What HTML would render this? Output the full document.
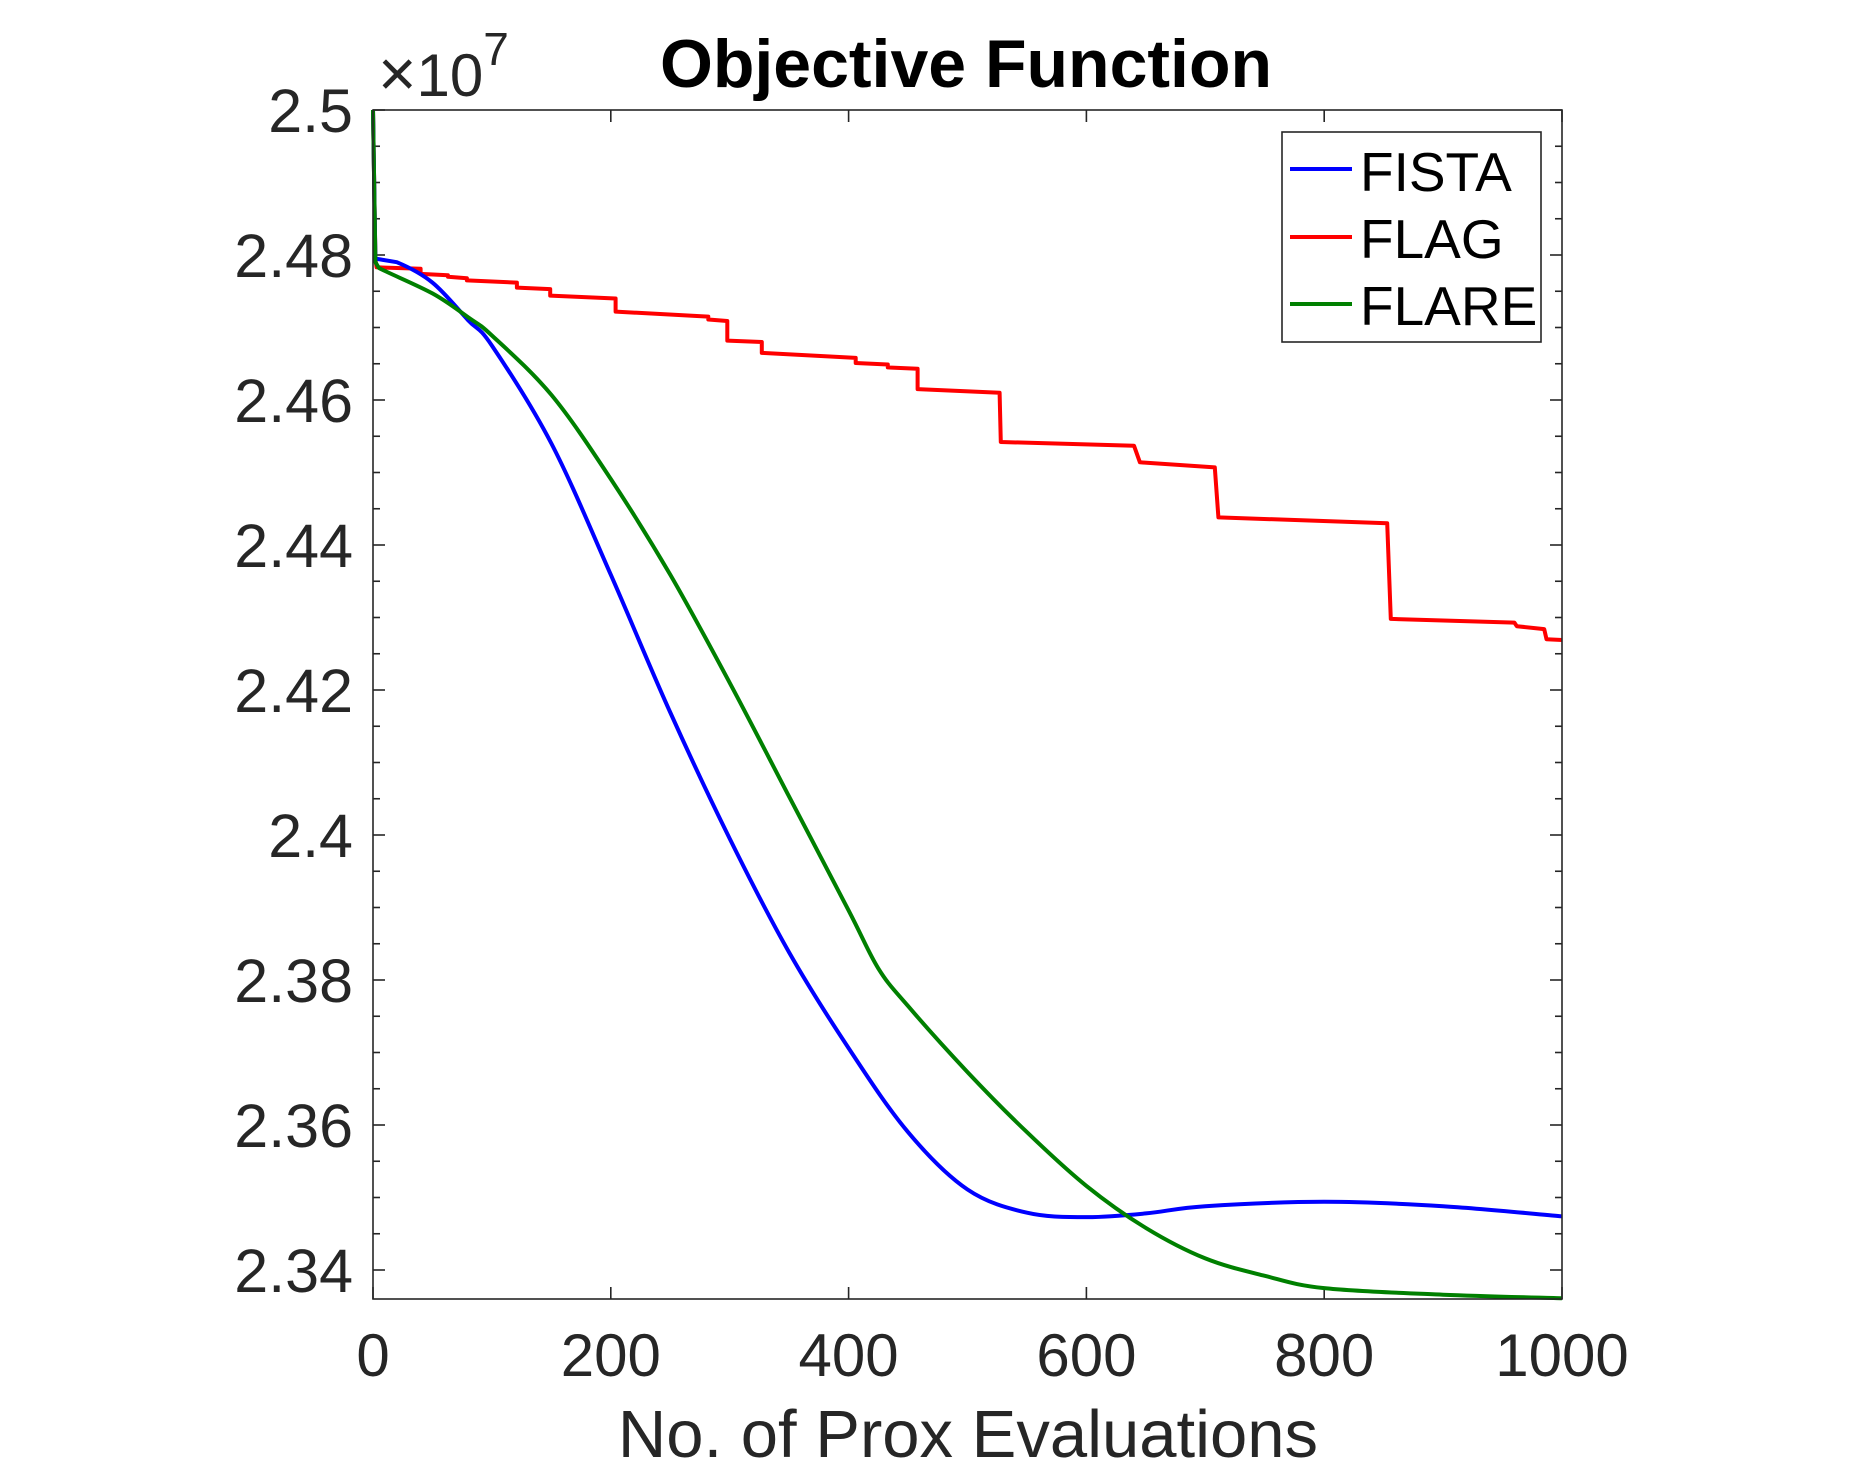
<!DOCTYPE html>
<html><head><meta charset="utf-8"><style>
html,body{margin:0;padding:0;background:#fff;}
svg{display:block;font-family:"Liberation Sans",sans-serif;}
</style></head><body>
<svg id="chart" width="1867" height="1473" viewBox="0 0 1867 1473" xmlns="http://www.w3.org/2000/svg">
<rect x="0" y="0" width="1867" height="1473" fill="#fff"/>
<g id="grid"></g>
<g id="series"></g>
<rect x="373" y="110" width="1189" height="1189" fill="none" stroke="#262626" stroke-width="1.6"/>
<text x="966" y="87" text-anchor="middle" font-size="68" font-weight="bold" fill="#000">Objective Function</text>
<text x="378" y="96" font-size="60" fill="#262626"><tspan font-size="66">×</tspan>10<tspan font-size="46" dy="-31">7</tspan></text>
<text x="968" y="1457" text-anchor="middle" font-size="67" fill="#262626">No. of Prox Evaluations</text>
<g>
<rect x="1282" y="132" width="259" height="210" fill="#fff" stroke="#262626" stroke-width="1.6"/>
<line x1="1290" y1="169" x2="1352" y2="169" stroke="#0000ff" stroke-width="4"/>
<text x="1360" y="191" font-size="55" fill="#000">FISTA</text>
<line x1="1290" y1="237" x2="1352" y2="237" stroke="#ff0000" stroke-width="4"/>
<text x="1360" y="258" font-size="55" fill="#000">FLAG</text>
<line x1="1290" y1="304" x2="1352" y2="304" stroke="#008000" stroke-width="4"/>
<text x="1360" y="325" font-size="55" fill="#000">FLARE</text>
</g>
</svg>
<script>
const xTicks = [0, 200, 400, 600, 800, 1000];
const yTicks = [2.34, 2.36, 2.38, 2.40, 2.42, 2.44, 2.46, 2.48, 2.50];
const yTickLabels = ["2.34", "2.36", "2.38", "2.4", "2.42", "2.44", "2.46", "2.48", "2.5"];
const fistaX = [0, 2, 20, 50, 80, 100, 150, 200, 250, 300, 350, 400, 450, 500, 550, 600, 650, 700, 800, 900, 1000];
const fistaY = [2.5, 2.4795, 2.4790, 2.4762, 2.4710, 2.4675, 2.4540, 2.4359, 2.4169, 2.3995, 2.3838, 2.3706, 2.3590, 2.3511, 2.3479, 2.3473, 2.3478, 2.3488, 2.3494, 2.3488, 2.3474];
const flareX = [0, 2, 5, 50, 80, 100, 150, 200, 250, 300, 350, 400, 425, 450, 500, 550, 600, 650, 700, 750, 800, 900, 1000];
const flareY = [2.5, 2.479, 2.4782, 2.4747, 2.4714, 2.4689, 2.4607, 2.4491, 2.4359, 2.4210, 2.4053, 2.3896, 2.3816, 2.3764, 2.3673, 2.3590, 2.3516, 2.3458, 2.3416, 2.3392, 2.3375, 2.3366, 2.3361];
const flagX = [0, 2, 3, 40, 40, 63, 63, 79, 79, 121, 121, 149, 149, 204, 204, 282, 282, 298, 298, 327, 327, 406, 406, 433, 433, 458, 458, 527, 528, 640, 645, 708, 711, 853, 856, 960, 962, 985, 987, 1000];
const flagY = [2.5, 2.4794, 2.4783, 2.4781, 2.4774, 2.4772, 2.4770, 2.4768, 2.4765, 2.4762, 2.4755, 2.4753, 2.4744, 2.4740, 2.4722, 2.4715, 2.4711, 2.4709, 2.4682, 2.4680, 2.4665, 2.4658, 2.4651, 2.4649, 2.4645, 2.4643, 2.4615, 2.4610, 2.4542, 2.4537, 2.4514, 2.4507, 2.4438, 2.4430, 2.4298, 2.4293, 2.4288, 2.4284, 2.4270, 2.4269];
const X0 = 373, X1 = 1562, Y0 = 1299, Y1 = 110;
const xMin = 0, xMax = 1000, yMin = 2.336, yMax = 2.5;
function sx(v){ return X0 + (v - xMin) / (xMax - xMin) * (X1 - X0); }
function sy(v){ return Y0 - (v - yMin) / (yMax - yMin) * (Y0 - Y1); }
const NS = "http://www.w3.org/2000/svg";
const grid = document.getElementById('grid');
const series = document.getElementById('series');
function mk(tag, attrs, parent){ const e = document.createElementNS(NS, tag); for (const k in attrs) e.setAttribute(k, attrs[k]); parent.appendChild(e); return e; }
xTicks.forEach(function(t){
  const x = sx(t);
  const a = mk('line', {x1:x, y1:Y0, x2:x, y2:Y0-12, stroke:'#262626', 'stroke-width':1.6}, grid);
  
  
  const b = mk('line', {x1:x, y1:Y1, x2:x, y2:Y1+12, stroke:'#262626', 'stroke-width':1.6}, grid);
  
  
  const tx = mk('text', {x:x, y:1376, 'text-anchor':'middle', 'font-size':60, fill:'#262626'}, grid);
  tx.textContent = String(t);
  
  
});
for (let v = 2.34; v <= 2.5001; v += 0.005) {
  const y = sy(v);
  const major = Math.abs(Math.round(v / 0.02) * 0.02 - v) < 1e-6;
  const len = major ? 12 : 7;
  const l = mk('line', {x1:X0, y1:y, x2:X0+len, y2:y, stroke:'#262626', 'stroke-width':1.6}, grid);
  
  
  const r = mk('line', {x1:X1, y1:y, x2:X1-len, y2:y, stroke:'#262626', 'stroke-width':1.6}, grid);
  
  
}
yTicks.forEach(function(t, i){
  const ty = mk('text', {x:353, y:sy(t)+22, 'text-anchor':'end', 'font-size':61, fill:'#262626'}, grid);
  ty.textContent = yTickLabels[i];
  
  
});
function drawLine(xs, ys, color, name, smooth){
  const pts = xs.map(function(x, i){ return [sx(x), sy(ys[i])]; });
  let d = 'M' + pts[0][0].toFixed(1) + ' ' + pts[0][1].toFixed(1);
  for (let i = 1; i < pts.length; i++) {
    if (!smooth || i < 3) { d += ' L' + pts[i][0].toFixed(1) + ' ' + pts[i][1].toFixed(1); continue; }
    const p0 = pts[Math.max(i - 2, 1)], p1 = pts[i - 1], p2 = pts[i], p3 = pts[Math.min(i + 1, pts.length - 1)];
    const c1x = p1[0] + (p2[0] - p0[0]) / 6, c1y = p1[1] + (p2[1] - p0[1]) / 6;
    const c2x = p2[0] - (p3[0] - p1[0]) / 6, c2y = p2[1] - (p3[1] - p1[1]) / 6;
    d += ' C' + c1x.toFixed(1) + ' ' + c1y.toFixed(1) + ' ' + c2x.toFixed(1) + ' ' + c2y.toFixed(1) + ' ' + p2[0].toFixed(1) + ' ' + p2[1].toFixed(1);
  }
  const p = mk('path', {d:d, fill:'none', stroke:color, 'stroke-width':4, 'stroke-linejoin':'round'}, series);
  
  
}
drawLine(flagX, flagY, '#ff0000', 'flag-line', false);
drawLine(fistaX, fistaY, '#0000ff', 'fista-line', true);
drawLine(flareX, flareY, '#008000', 'flare-line', true);
</script>
</body></html>
